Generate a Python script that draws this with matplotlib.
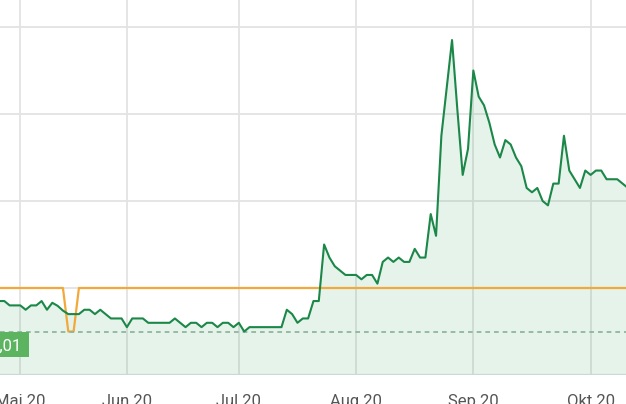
import numpy as np
import matplotlib
matplotlib.use("Agg")
import matplotlib.pyplot as plt
from matplotlib.patches import Rectangle
import matplotlib.transforms as mtransforms

plt.rcParams['font.family'] = ['Roboto', 'DejaVu Sans']

# daily closing prices (EUR), one value per trading day, late April -> mid Oct 2020
price = [0.017, 0.017, 0.016, 0.016,
         0.016, 0.015, 0.016, 0.016, 0.017, 0.015, 0.0166, 0.0159, 0.0148, 0.014,
         0.014, 0.014, 0.015, 0.015, 0.014, 0.015, 0.014, 0.013, 0.013, 0.013,
         0.011, 0.013, 0.013, 0.013, 0.012, 0.012, 0.012, 0.012, 0.012, 0.013,
         0.012, 0.011, 0.012, 0.012, 0.011, 0.012, 0.012, 0.011, 0.012, 0.012,
         0.011, 0.012, 0.010, 0.011, 0.011, 0.011, 0.011, 0.011, 0.011, 0.011,
         0.015, 0.014, 0.012, 0.013, 0.013, 0.017, 0.017, 0.030, 0.027, 0.025,
         0.024, 0.023, 0.023, 0.023, 0.022, 0.023, 0.023, 0.021, 0.026, 0.027,
         0.026, 0.027, 0.026, 0.026, 0.029, 0.027, 0.027, 0.037, 0.032, 0.055,
         0.066, 0.077, 0.061, 0.046, 0.052, 0.070, 0.064, 0.062, 0.058, 0.053,
         0.050, 0.054, 0.053, 0.050, 0.048, 0.043, 0.042, 0.043, 0.040, 0.039,
         0.044, 0.044, 0.055, 0.047, 0.045, 0.043, 0.047, 0.046, 0.047, 0.047,
         0.045, 0.045, 0.045, 0.044, 0.043]
# second series (orange), flat except a two-day dip
ref_line = [0.02] * len(price)
ref_line[13] = 0.01
ref_line[14] = 0.01
ref_level = 0.01

month_labels = ["Mai 20", "Jun 20", "Jul 20", "Aug 20", "Sep 20", "Okt 20"]
month_start = [4, 24, 45, 67, 89, 111]   # index of first trading day per month

x = np.arange(len(price))

fig = plt.figure(figsize=(6.26, 4.04), dpi=100)
ax = fig.add_axes([0, 29 / 404, 1, 375 / 404])

ax.fill_between(x, price, 0, color="#2e9e5a", alpha=0.12, lw=0, zorder=2)
ax.plot(x, ref_line, color="#f2a93b", lw=1.6, zorder=3)
ax.plot(x, price, color="#1b8748", lw=1.5, zorder=4)
ax.axhline(ref_level, color="#8fb59c", lw=1.3, ls=(0, (2.6, 2.2)), zorder=3)
ax.axhline(0, color="#ccd6dd", lw=1.6, zorder=5)

ax.set_xlim(0.19, 117.64)
ax.set_ylim(0, 375 / 4350)
ax.set_yticks([0, 0.02, 0.04, 0.06, 0.08])
ax.set_xticks(month_start)
ax.set_xticklabels(month_labels)
ax.grid(True, color="#e3e3e3", lw=1.3, zorder=0)
ax.set_axisbelow(True)
ax.tick_params(axis="x", length=0, pad=14, labelsize=12, colors="#555555")
ax.tick_params(axis="y", left=False, labelleft=False)
for s in ax.spines.values():
    s.set_visible(False)

# price label box at the left edge
trans = mtransforms.blended_transform_factory(ax.transAxes, ax.transData)
ax.add_patch(Rectangle((-0.05, 0.00406), 0.05 + 29 / 626, 0.00589, transform=trans,
                       color="#5cb460", lw=0, zorder=6, clip_on=False))
ax.text(21 / 626, 0.0055, f"{ref_level:.2f}".replace(".", ","), transform=trans,
        ha="right", va="baseline", color="white", fontsize=12, zorder=7)

fig.savefig("out.png", dpi=100)
